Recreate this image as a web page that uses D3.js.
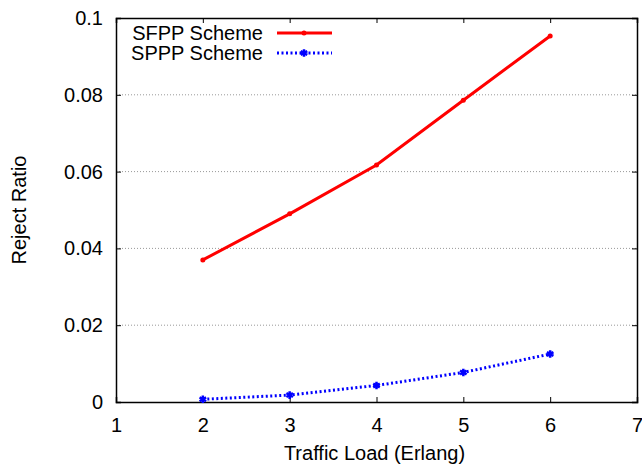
<!DOCTYPE html>
<html>
<head>
<meta charset="utf-8">
<script src="https://cdn.jsdelivr.net/npm/d3@7"></script>
<style>
body { margin: 0; background: #fff; }
text { font-family: "Liberation Sans", Arial, sans-serif; fill: #000; }
</style>
</head>
<body>
<svg id="chart" width="642" height="465"></svg>
<script>
var loads = [2, 3, 4, 5, 6];
var sfpp = [0.0370, 0.0490, 0.0617, 0.0786, 0.0953];
var sppp = [0.0007, 0.0018, 0.0043, 0.0077, 0.0125];
var xTicks = [1, 2, 3, 4, 5, 6, 7];
var yTicks = [0, 0.02, 0.04, 0.06, 0.08, 0.1];
var seriesNames = ["SFPP Scheme", "SPPP Scheme"];

function drawChart() {
    var svg = d3.select("#chart");
    var left = 116, right = 637, top = 18, bottom = 402;
    var fs = "20px";

    var x = d3.scaleLinear().domain([1, 7]).range([left, right]);
    var y = d3.scaleLinear().domain([0, 0.1]).range([bottom, top]);

    // grid
    svg.append("g")
        .selectAll("line")
        .data(yTicks.filter(function(d) { return d > 0 && d < 0.1; }))
        .enter()
        .append("line")
            .attr("x1", left).attr("x2", right)
            .attr("y1", function(d) { return y(d); })
            .attr("y2", function(d) { return y(d); })
            .attr("stroke", "#999")
            .attr("stroke-width", 1)
            .attr("stroke-dasharray", "1,2");

    // axes with inward ticks
    var fmtY = function(d) { return d === 0 ? "0" : String(+d.toFixed(2)); };
    var axB = svg.append("g").attr("transform", "translate(0," + bottom + ")")
        .call(d3.axisBottom(x).tickValues(xTicks).tickSize(-5).tickPadding(16).tickFormat(d3.format("d")));
    var axT = svg.append("g").attr("transform", "translate(0," + top + ")")
        .call(d3.axisTop(x).tickValues(xTicks).tickSize(-5).tickFormat(""));
    var axL = svg.append("g").attr("transform", "translate(" + left + ",0)")
        .call(d3.axisLeft(y).tickValues(yTicks).tickSize(-5).tickPadding(13).tickFormat(fmtY));
    var axR = svg.append("g").attr("transform", "translate(" + right + ",0)")
        .call(d3.axisRight(y).tickValues(yTicks).tickSize(-5).tickFormat(""));

    [axB, axT, axL, axR].forEach(function(a) {
        a.select(".domain").attr("stroke", "#000").attr("stroke-width", 1.5);
        a.selectAll(".tick line").attr("stroke", "#000").attr("stroke-width", 1);
        a.selectAll("text").style("font-family", "Liberation Sans, Arial, sans-serif")
            .style("font-size", fs).attr("fill", "#000");
    });

    // axis titles
    svg.append("text")
        .attr("x", (left + right) / 2 - 2).attr("y", 460)
        .attr("text-anchor", "middle")
        .style("font-size", fs)
        .text("Traffic Load (Erlang)");
    svg.append("text")
        .attr("transform", "translate(26," + (top + bottom) / 2 + ") rotate(-90)")
        .attr("text-anchor", "middle")
        .style("font-size", fs)
        .text("Reject Ratio");

    var line = d3.line()
        .x(function(d) { return x(d[0]); })
        .y(function(d) { return y(d[1]); });

    var redData = loads.map(function(l, i) { return [l, sfpp[i]]; });
    var blueData = loads.map(function(l, i) { return [l, sppp[i]]; });

    svg.append("path")
        .datum(redData)
        .attr("d", line)
        .attr("fill", "none")
        .attr("stroke", "#ff0000")
        .attr("stroke-width", 3);
    svg.append("g")
        .selectAll("circle")
        .data(redData)
        .enter()
        .append("circle")
            .attr("cx", function(d) { return x(d[0]); })
            .attr("cy", function(d) { return y(d[1]); })
            .attr("r", 2.5)
            .attr("fill", "#ff0000");

    svg.append("path")
        .datum(blueData)
        .attr("d", line)
        .attr("fill", "none")
        .attr("stroke", "#0000ff")
        .attr("stroke-width", 3)
        .attr("stroke-dasharray", "2,2.5");
    var star = d3.symbol().type(d3.symbolAsterisk).size(40);
    svg.append("g")
        .selectAll("path")
        .data(blueData)
        .enter()
        .append("path")
            .attr("d", star)
            .attr("transform", function(d) { return "translate(" + x(d[0]) + "," + y(d[1]) + ")"; })
            .attr("fill", "none")
            .attr("stroke", "#0000ff")
            .attr("stroke-width", 2.5);

    // legend
    var legend = svg.append("g");
    var ly = [33, 53];
    legend.selectAll("text")
        .data(seriesNames)
        .enter()
        .append("text")
            .attr("x", 263)
            .attr("y", function(d, i) { return ly[i] + 7; })
            .attr("text-anchor", "end")
            .style("font-size", fs)
            .text(function(d) { return d; });
    legend.append("line")
        .attr("x1", 277).attr("x2", 332).attr("y1", ly[0]).attr("y2", ly[0])
        .attr("stroke", "#ff0000").attr("stroke-width", 3);
    legend.append("circle")
        .attr("cx", 304).attr("cy", ly[0]).attr("r", 2.5).attr("fill", "#ff0000");
    legend.append("line")
        .attr("x1", 277).attr("x2", 332).attr("y1", ly[1]).attr("y2", ly[1])
        .attr("stroke", "#0000ff").attr("stroke-width", 3).attr("stroke-dasharray", "2,2.5");
    legend.append("path")
        .attr("d", star)
        .attr("transform", "translate(304," + ly[1] + ")")
        .attr("fill", "none").attr("stroke", "#0000ff").attr("stroke-width", 2.5);
}

drawChart();
</script>
</body>
</html>
